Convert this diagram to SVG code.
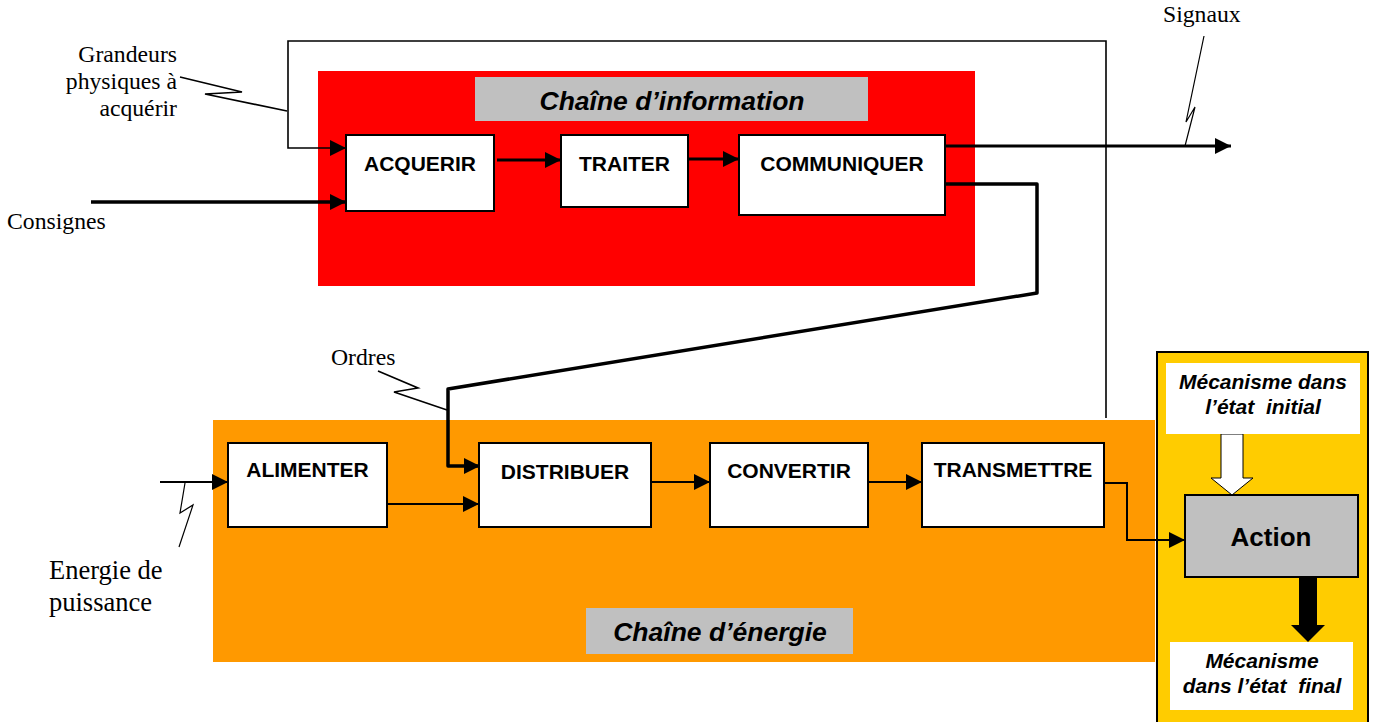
<svg xmlns="http://www.w3.org/2000/svg" width="1374" height="722" viewBox="0 0 1374 722">
<style>
.serif{font-family:"Liberation Serif","Times New Roman",serif;font-size:23.7px;fill:#000}
.lbl{font-family:"Liberation Sans",Arial,sans-serif;font-weight:bold;font-size:21px;fill:#000;text-anchor:middle}
.ttl{font-family:"Liberation Sans",Arial,sans-serif;font-weight:bold;font-style:italic;font-size:26.5px;fill:#000;text-anchor:middle}
.mec{font-family:"Liberation Sans",Arial,sans-serif;font-weight:bold;font-style:italic;font-size:21px;fill:#000;text-anchor:middle}
.box{fill:#fff;stroke:#000;stroke-width:2}
.ln{fill:none;stroke:#000}
.thin{fill:none;stroke:#000;stroke-width:1.2}
</style>
<defs>
<marker id="ah" markerUnits="userSpaceOnUse" markerWidth="17" markerHeight="17" refX="16" refY="8" orient="auto">
<path d="M0,0 L16,8 L0,16 z" fill="#000"/>
</marker>
</defs>
<rect width="1374" height="722" fill="#fff"/>
<g id="chaine-information-zone">
<rect x="318" y="71" width="657" height="215" fill="#ff0000"/>
<rect x="475" y="77" width="393" height="44" fill="#c0c0c0"/>
<text class="ttl" x="672" y="110">Chaîne d’information</text>
</g>
<g id="chaine-energie-zone">
<rect x="213" y="420" width="942" height="242" fill="#ff9900"/>
<rect x="586" y="608" width="267" height="46" fill="#c0c0c0"/>
<text class="ttl" x="720" y="641">Chaîne d’énergie</text>
</g>
<g id="action-zone">
<rect x="1157" y="352" width="211" height="372" fill="#ffcc00" stroke="#000" stroke-width="2"/>
</g>
<g id="connectors">
<polyline class="ln" stroke-width="1.6" points="1106,418 1106,41 288,41 288,148 346,148" marker-end="url(#ah)"/>
<line class="ln" stroke-width="3.5" x1="91" y1="202" x2="346" y2="202" marker-end="url(#ah)"/>
<line class="ln" stroke-width="3" x1="497" y1="160" x2="561" y2="160" marker-end="url(#ah)"/>
<line class="ln" stroke-width="3" x1="688" y1="159" x2="739" y2="159" marker-end="url(#ah)"/>
<line class="ln" stroke-width="3" x1="945" y1="146" x2="1231" y2="146" marker-end="url(#ah)"/>
<polyline class="ln" stroke-width="3.5" stroke-linejoin="round" points="945,184 1037,184 1037,293 448,389 448,466 480,466" marker-end="url(#ah)"/>
<line class="ln" stroke-width="2" x1="160" y1="482" x2="228" y2="482" marker-end="url(#ah)"/>
<line class="ln" stroke-width="2" x1="387" y1="504" x2="479" y2="504" marker-end="url(#ah)"/>
<line class="ln" stroke-width="2" x1="651" y1="482" x2="710" y2="482" marker-end="url(#ah)"/>
<line class="ln" stroke-width="2" x1="868" y1="482" x2="922" y2="482" marker-end="url(#ah)"/>
<polyline class="ln" stroke-width="2" points="1104,483 1127,483 1127,540 1185,540" marker-end="url(#ah)"/>
<polyline class="ln" stroke-width="1.6" points="180,77 242,92 205,94 287,111"/>
<polyline class="ln" stroke-width="1.6" points="378,371 418,388 394,392 447,410"/>
<polyline class="thin" points="1204,36 1186,122 1195,107 1185,146"/>
<polyline class="thin" points="185,483 180,513 193,505 179,547"/>
<polygon points="1221,434 1243,434 1243,478 1253,478 1232,495 1211,478 1221,478" fill="#fff" stroke="#000" stroke-width="1"/>
<polygon points="1299,577 1317,577 1317,625 1325,625 1308,642 1291,625 1299,625" fill="#000"/>
</g>
<g id="labels">
<text class="serif" text-anchor="end" x="177" y="62">Grandeurs</text>
<text class="serif" text-anchor="end" x="177" y="89">physiques à</text>
<text class="serif" text-anchor="end" x="177" y="116">acquérir</text>
<text class="serif" x="7" y="229">Consignes</text>
<text class="serif" x="1163" y="22">Signaux</text>
<text class="serif" x="331" y="365">Ordres</text>
<text class="serif" style="font-size:26.5px" x="49" y="579">Energie de</text>
<text class="serif" style="font-size:26.5px" x="49" y="611">puissance</text>
</g>
<g id="acquerir"><rect class="box" x="346" y="135" width="148" height="76"/><text class="lbl" x="420" y="171">ACQUERIR</text></g>
<g id="traiter"><rect class="box" x="561" y="135" width="127" height="72"/><text class="lbl" x="624.5" y="171">TRAITER</text></g>
<g id="communiquer"><rect class="box" x="739" y="135" width="206" height="80"/><text class="lbl" x="842" y="171">COMMUNIQUER</text></g>
<g id="alimenter"><rect class="box" x="228" y="443" width="159" height="84"/><text class="lbl" x="307.5" y="477">ALIMENTER</text></g>
<g id="distribuer"><rect class="box" x="479" y="443" width="172" height="84"/><text class="lbl" x="565" y="479">DISTRIBUER</text></g>
<g id="convertir"><rect class="box" x="710" y="443" width="158" height="84"/><text class="lbl" x="789" y="478">CONVERTIR</text></g>
<g id="transmettre"><rect class="box" x="922" y="443" width="182" height="84"/><text class="lbl" x="1013" y="477">TRANSMETTRE</text></g>
<g id="action"><rect x="1185" y="495" width="173" height="82" fill="#c0c0c0" stroke="#000" stroke-width="2"/><text class="lbl" style="font-size:26px" x="1271" y="546">Action</text></g>
<g id="etat-initial"><rect x="1166" y="363" width="194" height="71" fill="#fff"/><text class="mec" x="1263" y="389">Mécanisme dans</text><text class="mec" x="1263" y="414" xml:space="preserve">l’état  initial</text></g>
<g id="etat-final"><rect x="1170" y="642" width="183" height="68" fill="#fff"/><text class="mec" x="1262" y="668">Mécanisme</text><text class="mec" x="1262" y="693" xml:space="preserve">dans l’état  final</text></g>
</svg>
